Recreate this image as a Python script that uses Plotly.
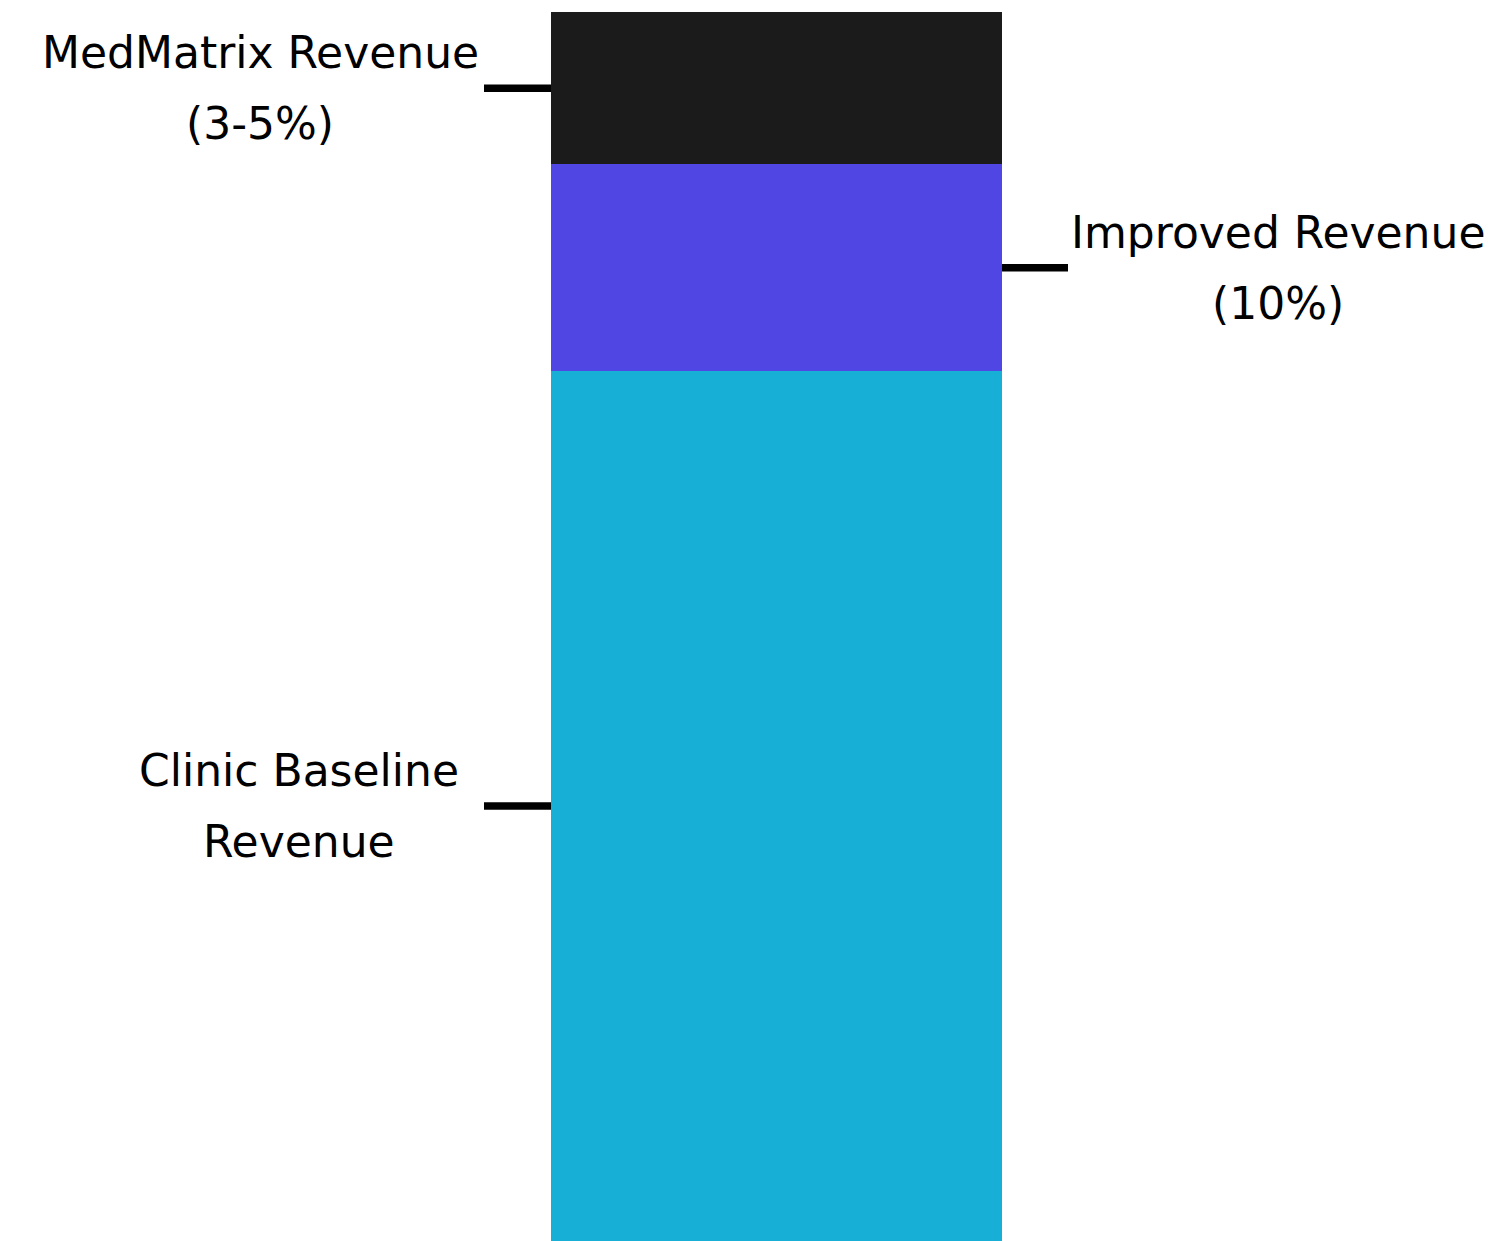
import plotly.graph_objects as go

# Data (share of stacked bar)
segments = ["Clinic Baseline Revenue", "Improved Revenue", "MedMatrix Revenue"]
values = [70.8, 16.8, 12.4]
colors = ["#18AFD6", "#5046E4", "#1B1B1B"]
label_lines = [["Clinic Baseline", "Revenue"], ["Improved Revenue", "(10%)"], ["MedMatrix Revenue", "(3-5%)"]]
label_side = ["left", "right", "left"]

# page has 8px body margin -> figure is 8px smaller and offset
OFF = 8
W, H = 1495 - OFF, 1241 - OFF
FONT = "DejaVu Sans"
FSIZE = 44

total = sum(values)
ymax = total * H / 1229.0

unit = 451.0
xc = 776.5 - OFF
x_range = [-xc / unit, (W - xc) / unit]

fig = go.Figure()
for name, v, c in zip(segments, values, colors):
    fig.add_trace(go.Bar(x=[0], y=[v], name=name, marker=dict(color=c, line=dict(width=0)),
                         width=1, hoverinfo="name+y"))

shapes = []
annotations = []
text_cx = [299, 1278, 260]
cum = 0
for i, (v, lines, side) in enumerate(zip(values, label_lines, label_side)):
    mid = cum + v / 2
    cum += v
    if side == "left":
        x0, x1 = -0.5 - 67 / unit, -0.5
    else:
        x0, x1 = 0.5, 0.5 + 66 / unit
    shapes.append(dict(type="line", xref="x", yref="y", x0=x0, x1=x1, y0=mid, y1=mid,
                       line=dict(color="#000000", width=7.5)))
    cx = text_cx[i] - OFF
    for j, t in enumerate(lines):
        annotations.append(dict(xref="paper", yref="y", x=cx / W, y=mid, text=t,
                                showarrow=False, xanchor="center", yanchor="middle",
                                yshift=35.5 if j == 0 else -35.5,
                                font=dict(family=FONT, size=FSIZE, color="#000000")))

fig.update_layout(
    width=W, height=H, margin=dict(l=0, r=0, t=0, b=0),
    paper_bgcolor="white", plot_bgcolor="white",
    barmode="stack", showlegend=False, bargap=0,
    xaxis=dict(range=x_range, visible=False, fixedrange=True),
    yaxis=dict(range=[0, ymax], visible=False, fixedrange=True),
    shapes=shapes, annotations=annotations,
)
fig.write_html("out.html")
